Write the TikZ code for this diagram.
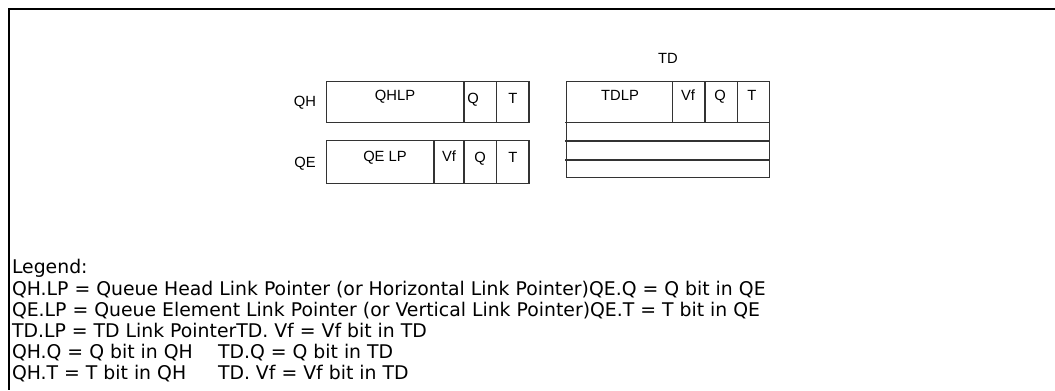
\documentclass[tikz,border=0pt]{standalone}
\usepackage{fontspec}
\usepackage{tikz}
\usetikzlibrary{positioning}
\newfontfamily\cellfont{Liberation Sans}
\newfontfamily\legendfont{DejaVu Sans}
\definecolor{edge}{HTML}{333333}

\begin{document}
\begin{tikzpicture}[
  x=0.025cm, y=-0.025cm,
  every node/.style={inner sep=0pt, outer sep=0pt},
  frame/.style={line width=1.45pt, draw=black},
  cell/.style={line width=0.8pt, draw=edge},
  fld/.style={font=\cellfont\fontsize{10.5}{12}\selectfont, anchor=base},
  legend/.style={font=\legendfont\fontsize{13.4}{16}\selectfont, anchor=base west}
]
  \useasboundingbox (0,0) rectangle (1055,390);

  % Frame (top and left only)
  \draw[frame] (1055,9) -- (9,9) -- (9,390);

  % Queue head
  \draw[cell] (326.7,81.7) rectangle (529,122.7);
  \draw[cell] (464,81.7) -- (464,122.7);
  \draw[cell] (496.7,81.7) -- (496.7,122.7);
  \node[fld] (qh)   at (305,106.5) {QH};
  \node[fld] (qhlp) at (395,100.5) {QHLP};
  \node[fld] (qhq)  at (473,103)   {Q};
  \node[fld] (qht)  at (513,103)   {T};

  % Queue element
  \draw[cell] (326.7,140.7) rectangle (529,183.3);
  \foreach \xd in {434,464,496.7}
    \draw[cell] (\xd,140.7) -- (\xd,183.3);
  \node[fld] (qe)   at (305,167)   {QE};
  \node[fld] (qelp) at (385,161.5) {QE LP};
  \node[fld] (qevf) at (449,161.5) {Vf};
  \node[fld] (qeq)  at (480,162)   {Q};
  \node[fld] (qet)  at (513,162)   {T};

  % Transfer descriptor
  \node[fld] (td) at (668,63.5) {TD};
  \draw[cell] (566.7,81.7) rectangle (769.3,177.3);
  \foreach \yd in {122.3,141,160}
    \draw[cell] (565,\yd) -- (769.3,\yd);
  \foreach \xd in {672.7,705,737.3}
    \draw[cell] (\xd,81.7) -- (\xd,122.3);
  \node[fld] (tdlp) at (620,100.5)   {TDLP};
  \node[fld] (tdvf) at (688,100.5)   {Vf};
  \node[fld] (tdq)  at (720,100.5)   {Q};
  \node[fld] (tdt)  at (752,100.5)   {T};

  % Legend
  \node[legend] (leg)  at (12,273) {Legend:};
  \node[legend] (leg1) at (12,295) {QH.LP = Queue Head Link Pointer (or Horizontal Link Pointer)QE.Q = Q bit in QE};
  \node[legend] (leg2) at (12,316) {QE.LP = Queue Element Link Pointer (or Vertical Link Pointer)QE.T = T bit in QE};
  \node[legend] (leg3) at (12,337) {TD.LP = TD Link PointerTD. Vf = Vf bit in TD};
  \node[legend] (leg4) at (12,358) {QH.Q = Q bit in QH};
  \node[legend] (leg5) at (218,358) {TD.Q = Q bit in TD};
  \node[legend] (leg6) at (12,379) {QH.T = T bit in QH};
  \node[legend] (leg7) at (218,379) {TD. Vf = Vf bit in TD};
\end{tikzpicture}
\end{document}
